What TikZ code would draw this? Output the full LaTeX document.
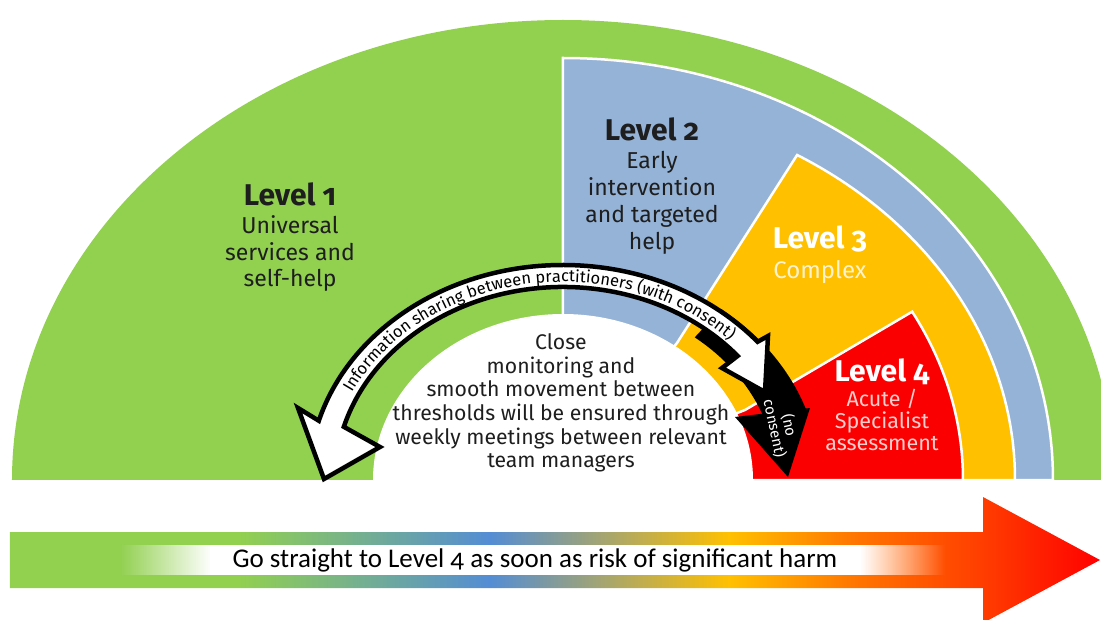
\documentclass[tikz,border=0pt]{standalone}
\usepackage{xcolor}
\usepackage{fontspec}
\setmainfont{Fira Sans}[Numbers=OldStyle]
\newfontfamily\barfont{Carlito}[Numbers=OldStyle]
\usepackage{tikz}
\usetikzlibrary{decorations.text, fadings}

\definecolor{lvlgreen}{RGB}{146,208,80}
\definecolor{lvlblue}{RGB}{149,179,215}
\definecolor{lvlyellow}{RGB}{255,192,0}
\definecolor{lvlred}{RGB}{250,0,0}
\definecolor{barblue}{RGB}{84,141,212}
\definecolor{barorange}{RGB}{255,120,0}
\definecolor{barredorange}{RGB}{255,60,0}
\definecolor{darktext}{RGB}{30,30,30}
\definecolor{paleyellow}{RGB}{255,242,204}
\definecolor{palered}{RGB}{255,204,204}

\pgfdeclarehorizontalshading{riskbar}{100bp}{color(0bp)=(lvlgreen); color(25bp)=(lvlgreen); color(35.5bp)=(lvlgreen); color(47bp)=(barblue); color(58bp)=(lvlyellow); color(63.5bp)=(barorange); color(69.7bp)=(barredorange); color(75bp)=(red); color(100bp)=(red)}
\tikzfading[name=fadein, left color=transparent!100, right color=transparent!0]
\tikzfading[name=fadeout, left color=transparent!0, right color=transparent!100]

\newcommand{\lvltitle}[1]{{\bfseries\fontsize{30}{30}\selectfont #1}}

\begin{document}
\begin{tikzpicture}[x=1pt, y=1pt,
				sector/.style={draw=white, line width=2.5pt, line join=miter},
				sharearrow/.style={fill=white, draw=black, line width=4.5pt, line join=miter},
				blocktext/.style={align=center, inner sep=0pt}]
				\useasboundingbox (-563,-139) rectangle (538,480);
				\clip (-563,-139) rectangle (538,480);
				\fill[lvlgreen] (-551,0) arc[start angle=180, end angle=0, x radius=551, y radius=460] -- cycle;
				\filldraw[sector, fill=lvlblue] (0,0) -- (490,0) arc[start angle=0, end angle=90, x radius=490, y radius=422] -- cycle;
				\filldraw[sector, fill=lvlyellow] (0,0) -- (452,0) arc[start angle=0, end angle=58.8, x radius=452, y radius=380] -- (114,137) -- cycle;
				\filldraw[sector, fill=lvlred] (0,0) -- (400,0) arc[start angle=0, end angle=29.2, x radius=400, y radius=345] -- (182,70) -- cycle;
				\fill[white] (190,0) arc[start angle=0, end angle=180, x radius=190, y radius=166] -- cycle;
				\fill[white] (-563,0) rectangle (538,-139);
				\fill[black] (52:257 and 217) arc[start angle=52, end angle=18, x radius=257, y radius=217] -- (18:214 and 181) arc[start angle=18, end angle=52, x radius=214, y radius=181] -- cycle;
				\fill[black] (247,72) -- (225,3) -- (172,63) -- cycle;
				\filldraw[sharearrow] (-239,1) -- (-183,33) -- (164:228 and 193) arc[start angle=164, end angle=40, x radius=228, y radius=193] -- (159,112) -- (202,88) -- (205,144) -- (40:254 and 215) arc[start angle=40, end angle=164, x radius=254, y radius=215] -- (-265,72) -- cycle;
				\path[decorate, decoration={text along path, text align=center, text={|\fontsize{16.5}{16.5}\selectfont|Information sharing between practitioners (with consent)}}] (160:235 and 198) arc[start angle=160, end angle=39, x radius=235, y radius=198];
				\node at (219,53) (noconsent) [blocktext, rotate=-78, text=white, font=\fontsize{15}{15}\selectfont] {(no\\consent)};
				\node at (-273,243) (lvlone) [blocktext, text=darktext, font=\fontsize{23}{26.5}\selectfont] {\lvltitle{Level 1}\\[2pt]Universal\\services and\\self-help};
				\node at (89,294) (lvltwo) [blocktext, text=darktext, font=\fontsize{23}{27}\selectfont] {\lvltitle{Level 2}\\[1pt]Early\\intervention\\and targeted\\help};
				\node at (257,225) (lvlthree) [blocktext, text=paleyellow, font=\fontsize{24}{30}\selectfont] {\textcolor{white}{\lvltitle{Level 3}}\\Complex};
				\node at (319,75) (lvlfour) [blocktext, text=palered, font=\fontsize{21.5}{22}\selectfont] {\textcolor{white}{\lvltitle{Level 4}}\\[3pt]Acute /\\Specialist\\assessment};
				\node at (-2,77) (monitor) [blocktext, text=darktext, font=\fontsize{21.2}{23.6}\selectfont] {Close\\monitoring and\\smooth movement between\\thresholds will be ensured through\\weekly meetings between relevant\\team managers};
				\shade[shading=riskbar] (-553,-52) -- (420,-52) -- (420,-17) -- (537,-80) -- (420,-143) -- (420,-108) -- (-553,-108) -- cycle;
				\fill[white, path fading=fadein] (-443,-65) rectangle (-352,-95);
				\fill[white] (-353,-65) rectangle (298,-95);
				\fill[white, path fading=fadeout] (297,-65) rectangle (382,-95);
				\node at (-28,-80) (harm) [blocktext, text=black, font=\barfont\fontsize{27}{27}\selectfont] {Go straight to Level 4 as soon as risk of significant harm};
			\end{tikzpicture}
\end{document}
